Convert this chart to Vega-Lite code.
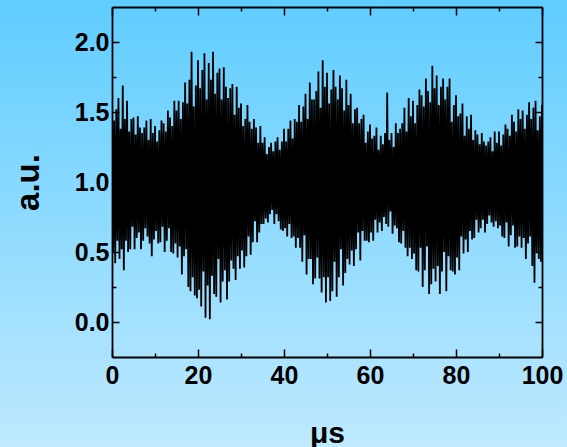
{
"$schema": "https://vega.github.io/schema/vega-lite/v6.json",
"autosize": {"type": "none"},
"width": 430, "height": 350,
"padding": {"left": 112, "top": 7, "right": 25, "bottom": 90},
"background": "#8edbff",
"config": {
  "view": {
    "fill": {"gradient": "linear", "x1": 0, "y1": -0.02, "x2": 0, "y2": 1.257, "stops": [{"offset": 0, "color": "#5fcdff"}, {"offset": 1, "color": "#bfe9ff"}]},
    "stroke": {"gradient": "linear", "x1": 0, "y1": -0.02, "x2": 0, "y2": 1.257, "stops": [{"offset": 0, "color": "#5fcdff"}, {"offset": 1, "color": "#bfe9ff"}]},
    "strokeWidth": 1400
  },
  "font": "Liberation Sans",
  "axis": {"grid": false, "domainColor": "black", "domainWidth": 1.8, "tickColor": "black", "tickWidth": 1.5, "labelColor": "black", "labelFont": "Liberation Sans", "labelFontWeight": "bold", "titleFont": "Liberation Sans", "titleFontWeight": "bold", "titleColor": "black", "labelOverlap": false, "labelFlush": false}
},
"data": {"values": [
{"t":0,"v":1.57},{"t":0.25,"v":0.50},{"t":0.5,"v":1.44},{"t":0.75,"v":0.42},
{"t":1,"v":1.52},{"t":1.25,"v":0.58},{"t":1.5,"v":1.60},{"t":1.75,"v":0.45},
{"t":2,"v":1.38},{"t":2.25,"v":0.52},{"t":2.5,"v":1.69},{"t":2.75,"v":0.37},
{"t":3,"v":1.45},{"t":3.25,"v":0.58},{"t":3.5,"v":1.58},{"t":3.75,"v":0.50},
{"t":4,"v":1.36},{"t":4.25,"v":0.52},{"t":4.5,"v":1.45},{"t":4.75,"v":0.68},
{"t":5,"v":1.46},{"t":5.25,"v":0.52},{"t":5.5,"v":1.34},{"t":5.75,"v":0.60},
{"t":6,"v":1.47},{"t":6.25,"v":0.64},{"t":6.5,"v":1.39},{"t":6.75,"v":0.52},
{"t":7,"v":1.35},{"t":7.25,"v":0.58},{"t":7.5,"v":1.39},{"t":7.75,"v":0.67},
{"t":8,"v":1.44},{"t":8.25,"v":0.61},{"t":8.5,"v":1.30},{"t":8.75,"v":0.56},
{"t":9,"v":1.45},{"t":9.25,"v":0.47},{"t":9.5,"v":1.35},{"t":9.75,"v":0.59},
{"t":10,"v":1.40},{"t":10.25,"v":0.65},{"t":10.5,"v":1.29},{"t":10.75,"v":0.56},
{"t":11,"v":1.37},{"t":11.25,"v":0.57},{"t":11.5,"v":1.44},{"t":11.75,"v":0.68},
{"t":12,"v":1.42},{"t":12.25,"v":0.50},{"t":12.5,"v":1.36},{"t":12.75,"v":0.58},
{"t":13,"v":1.51},{"t":13.25,"v":0.67},{"t":13.5,"v":1.46},{"t":13.75,"v":0.50},
{"t":14,"v":1.40},{"t":14.25,"v":0.49},{"t":14.5,"v":1.58},{"t":14.75,"v":0.56},
{"t":15,"v":1.51},{"t":15.25,"v":0.46},{"t":15.5,"v":1.58},{"t":15.75,"v":0.54},
{"t":16,"v":1.45},{"t":16.25,"v":0.34},{"t":16.5,"v":1.57},{"t":16.75,"v":0.47},
{"t":17,"v":1.71},{"t":17.25,"v":0.52},{"t":17.5,"v":1.56},{"t":17.75,"v":0.25},
{"t":18,"v":1.73},{"t":18.25,"v":0.22},{"t":18.5,"v":1.93},{"t":18.75,"v":0.32},
{"t":19,"v":1.54},{"t":19.25,"v":0.19},{"t":19.5,"v":1.69},{"t":19.75,"v":0.17},
{"t":20,"v":1.87},{"t":20.25,"v":0.23},{"t":20.5,"v":1.67},{"t":20.75,"v":0.11},
{"t":21,"v":1.80},{"t":21.25,"v":0.36},{"t":21.5,"v":1.92},{"t":21.75,"v":0.03},
{"t":22,"v":1.59},{"t":22.25,"v":0.26},{"t":22.5,"v":1.85},{"t":22.75,"v":0.02},
{"t":23,"v":1.73},{"t":23.25,"v":0.33},{"t":23.5,"v":1.93},{"t":23.75,"v":0.20},
{"t":24,"v":1.63},{"t":24.25,"v":0.18},{"t":24.5,"v":1.78},{"t":24.75,"v":0.45},
{"t":25,"v":1.81},{"t":25.25,"v":0.14},{"t":25.5,"v":1.59},{"t":25.75,"v":0.29},
{"t":26,"v":1.82},{"t":26.25,"v":0.37},{"t":26.5,"v":1.68},{"t":26.75,"v":0.16},
{"t":27,"v":1.60},{"t":27.25,"v":0.29},{"t":27.5,"v":1.67},{"t":27.75,"v":0.44},
{"t":28,"v":1.70},{"t":28.25,"v":0.38},{"t":28.5,"v":1.48},{"t":28.75,"v":0.30},
{"t":29,"v":1.68},{"t":29.25,"v":0.47},{"t":29.5,"v":1.53},{"t":29.75,"v":0.38},
{"t":30,"v":1.56},{"t":30.25,"v":0.51},{"t":30.5,"v":1.40},{"t":30.75,"v":0.39},
{"t":31,"v":1.45},{"t":31.25,"v":0.47},{"t":31.5,"v":1.55},{"t":31.75,"v":0.61},
{"t":32,"v":1.43},{"t":32.25,"v":0.48},{"t":32.5,"v":1.38},{"t":32.75,"v":0.57},
{"t":33,"v":1.45},{"t":33.25,"v":0.72},{"t":33.5,"v":1.39},{"t":33.75,"v":0.57},
{"t":34,"v":1.28},{"t":34.25,"v":0.64},{"t":34.5,"v":1.40},{"t":34.75,"v":0.70},
{"t":35,"v":1.28},{"t":35.25,"v":0.70},{"t":35.5,"v":1.32},{"t":35.75,"v":0.74},
{"t":36,"v":1.20},{"t":36.25,"v":0.71},{"t":36.5,"v":1.25},{"t":36.75,"v":0.77},
{"t":37,"v":1.28},{"t":37.25,"v":0.80},{"t":37.5,"v":1.22},{"t":37.75,"v":0.70},
{"t":38,"v":1.29},{"t":38.25,"v":0.77},{"t":38.5,"v":1.32},{"t":38.75,"v":0.72},
{"t":39,"v":1.23},{"t":39.25,"v":0.66},{"t":39.5,"v":1.29},{"t":39.75,"v":0.65},
{"t":40,"v":1.38},{"t":40.25,"v":0.67},{"t":40.5,"v":1.29},{"t":40.75,"v":0.61},
{"t":41,"v":1.38},{"t":41.25,"v":0.70},{"t":41.5,"v":1.44},{"t":41.75,"v":0.60},
{"t":42,"v":1.31},{"t":42.25,"v":0.61},{"t":42.5,"v":1.45},{"t":42.75,"v":0.53},
{"t":43,"v":1.43},{"t":43.25,"v":0.60},{"t":43.5,"v":1.55},{"t":43.75,"v":0.53},
{"t":44,"v":1.43},{"t":44.25,"v":0.43},{"t":44.5,"v":1.54},{"t":44.75,"v":0.62},
{"t":45,"v":1.63},{"t":45.25,"v":0.34},{"t":45.5,"v":1.45},{"t":45.75,"v":0.45},
{"t":46,"v":1.71},{"t":46.25,"v":0.45},{"t":46.5,"v":1.59},{"t":46.75,"v":0.27},
{"t":47,"v":1.59},{"t":47.25,"v":0.31},{"t":47.5,"v":1.65},{"t":47.75,"v":0.46},
{"t":48,"v":1.79},{"t":48.25,"v":0.31},{"t":48.5,"v":1.53},{"t":48.75,"v":0.21},
{"t":49,"v":1.87},{"t":49.25,"v":0.32},{"t":49.5,"v":1.68},{"t":49.75,"v":0.14},
{"t":50,"v":1.78},{"t":50.25,"v":0.32},{"t":50.5,"v":1.56},{"t":50.75,"v":0.15},
{"t":51,"v":1.66},{"t":51.25,"v":0.22},{"t":51.5,"v":1.80},{"t":51.75,"v":0.43},
{"t":52,"v":1.68},{"t":52.25,"v":0.18},{"t":52.5,"v":1.59},{"t":52.75,"v":0.32},
{"t":53,"v":1.76},{"t":53.25,"v":0.52},{"t":53.5,"v":1.67},{"t":53.75,"v":0.26},
{"t":54,"v":1.51},{"t":54.25,"v":0.35},{"t":54.5,"v":1.73},{"t":54.75,"v":0.45},
{"t":55,"v":1.55},{"t":55.25,"v":0.41},{"t":55.5,"v":1.63},{"t":55.75,"v":0.51},
{"t":56,"v":1.42},{"t":56.25,"v":0.40},{"t":56.5,"v":1.52},{"t":56.75,"v":0.52},
{"t":57,"v":1.53},{"t":57.25,"v":0.64},{"t":57.5,"v":1.42},{"t":57.75,"v":0.44},
{"t":58,"v":1.45},{"t":58.25,"v":0.65},{"t":58.5,"v":1.48},{"t":58.75,"v":0.58},
{"t":59,"v":1.28},{"t":59.25,"v":0.58},{"t":59.5,"v":1.36},{"t":59.75,"v":0.57},
{"t":60,"v":1.41},{"t":60.25,"v":0.64},{"t":60.5,"v":1.31},{"t":60.75,"v":0.58},
{"t":61,"v":1.33},{"t":61.25,"v":0.73},{"t":61.5,"v":1.39},{"t":61.75,"v":0.64},
{"t":62,"v":1.23},{"t":62.25,"v":0.71},{"t":62.5,"v":1.33},{"t":62.75,"v":0.65},
{"t":63,"v":1.27},{"t":63.25,"v":0.75},{"t":63.5,"v":1.35},{"t":63.75,"v":0.70},
{"t":64,"v":1.64},{"t":64.25,"v":0.68},{"t":64.5,"v":1.30},{"t":64.75,"v":0.79},
{"t":65,"v":1.35},{"t":65.25,"v":0.63},{"t":65.5,"v":1.25},{"t":65.75,"v":0.69},
{"t":66,"v":1.42},{"t":66.25,"v":0.67},{"t":66.5,"v":1.35},{"t":66.75,"v":0.57},
{"t":67,"v":1.38},{"t":67.25,"v":0.56},{"t":67.5,"v":1.42},{"t":67.75,"v":0.65},
{"t":68,"v":1.53},{"t":68.25,"v":0.53},{"t":68.5,"v":1.36},{"t":68.75,"v":0.47},
{"t":69,"v":1.60},{"t":69.25,"v":0.53},{"t":69.5,"v":1.47},{"t":69.75,"v":0.45},
{"t":70,"v":1.58},{"t":70.25,"v":0.49},{"t":70.5,"v":1.42},{"t":70.75,"v":0.37},
{"t":71,"v":1.55},{"t":71.25,"v":0.36},{"t":71.5,"v":1.66},{"t":71.75,"v":0.53},
{"t":72,"v":1.62},{"t":72.25,"v":0.25},{"t":72.5,"v":1.54},{"t":72.75,"v":0.37},
{"t":73,"v":1.74},{"t":73.25,"v":0.54},{"t":73.5,"v":1.65},{"t":73.75,"v":0.20},
{"t":74,"v":1.57},{"t":74.25,"v":0.27},{"t":74.5,"v":1.83},{"t":74.75,"v":0.38},
{"t":75,"v":1.67},{"t":75.25,"v":0.29},{"t":75.5,"v":1.76},{"t":75.75,"v":0.40},
{"t":76,"v":1.55},{"t":76.25,"v":0.20},{"t":76.5,"v":1.68},{"t":76.75,"v":0.36},
{"t":77,"v":1.74},{"t":77.25,"v":0.50},{"t":77.5,"v":1.59},{"t":77.75,"v":0.22},
{"t":78,"v":1.68},{"t":78.25,"v":0.47},{"t":78.5,"v":1.74},{"t":78.75,"v":0.37},
{"t":79,"v":1.43},{"t":79.25,"v":0.36},{"t":79.5,"v":1.55},{"t":79.75,"v":0.34},
{"t":80,"v":1.62},{"t":80.25,"v":0.46},{"t":80.5,"v":1.47},{"t":80.75,"v":0.37},
{"t":81,"v":1.49},{"t":81.25,"v":0.61},{"t":81.5,"v":1.56},{"t":81.75,"v":0.49},
{"t":82,"v":1.33},{"t":82.25,"v":0.59},{"t":82.5,"v":1.47},{"t":82.75,"v":0.50},
{"t":83,"v":1.38},{"t":83.25,"v":0.65},{"t":83.5,"v":1.48},{"t":83.75,"v":0.59},
{"t":84,"v":1.30},{"t":84.25,"v":0.60},{"t":84.5,"v":1.37},{"t":84.75,"v":0.73},
{"t":85,"v":1.34},{"t":85.25,"v":0.64},{"t":85.5,"v":1.27},{"t":85.75,"v":0.67},
{"t":86,"v":1.35},{"t":86.25,"v":0.73},{"t":86.5,"v":1.29},{"t":86.75,"v":0.64},
{"t":87,"v":1.26},{"t":87.25,"v":0.70},{"t":87.5,"v":1.29},{"t":87.75,"v":0.76},
{"t":88,"v":1.32},{"t":88.25,"v":0.71},{"t":88.5,"v":1.22},{"t":88.75,"v":0.68},
{"t":89,"v":1.36},{"t":89.25,"v":0.72},{"t":89.5,"v":1.28},{"t":89.75,"v":0.67},
{"t":90,"v":1.36},{"t":90.25,"v":0.69},{"t":90.5,"v":1.26},{"t":90.75,"v":0.61},
{"t":91,"v":1.34},{"t":91.25,"v":0.60},{"t":91.5,"v":1.41},{"t":91.75,"v":0.71},
{"t":92,"v":1.38},{"t":92.25,"v":0.54},{"t":92.5,"v":1.33},{"t":92.75,"v":0.62},
{"t":93,"v":1.48},{"t":93.25,"v":0.69},{"t":93.5,"v":1.43},{"t":93.75,"v":0.53},
{"t":94,"v":1.36},{"t":94.25,"v":0.54},{"t":94.5,"v":1.52},{"t":94.75,"v":0.61},
{"t":95,"v":1.45},{"t":95.25,"v":0.53},{"t":95.5,"v":1.51},{"t":95.75,"v":0.60},
{"t":96,"v":1.38},{"t":96.25,"v":0.45},{"t":96.5,"v":1.48},{"t":96.75,"v":0.56},
{"t":97,"v":1.57},{"t":97.25,"v":0.61},{"t":97.5,"v":1.45},{"t":97.75,"v":0.40},
{"t":98,"v":1.53},{"t":98.25,"v":0.28},{"t":98.5,"v":1.58},{"t":98.75,"v":0.50},
{"t":99,"v":1.37},{"t":99.25,"v":0.45},{"t":99.5,"v":1.47},{"t":99.75,"v":0.43},
{"t":100,"v":1.55}
]},
"layer": [
  {
    "mark": {"type": "line", "color": "black", "strokeWidth": 1.8, "clip": true},
    "encoding": {
      "x": {"field": "t", "type": "quantitative", "scale": {"domain": [0, 100], "nice": false, "zero": false},
        "axis": {"orient": "bottom", "values": [0,10,20,30,40,50,60,70,80,90,100], "format": "d",
          "labelExpr": "datum.value % 20 === 0 ? datum.label : ''",
          "tickSize": {"condition": {"test": "datum.value % 20 === 0", "value": -8}, "value": -4},
          "labelPadding": 14, "labelFontSize": 25, "title": "μs", "titleFontSize": 30, "titlePadding": 26}},
      "y": {"field": "v", "type": "quantitative", "scale": {"domain": [-0.25, 2.25], "nice": false, "zero": false},
        "axis": {"orient": "left", "values": [0,0.25,0.5,0.75,1,1.25,1.5,1.75,2], "format": ".1f",
          "labelExpr": "round(datum.value*4) % 2 === 0 ? datum.label : ''",
          "tickSize": {"condition": {"test": "round(datum.value*4) % 2 === 0", "value": -7}, "value": -4},
          "labelPadding": 10, "labelFontSize": 25, "title": "a.u.", "titleFontSize": 33, "titlePadding": 29}}
    }
  },
  {
    "mark": {"type": "line", "opacity": 0},
    "encoding": {
      "x": {"field": "t", "type": "quantitative",
        "axis": {"orient": "top", "values": [0,10,20,30,40,50,60,70,80,90,100], "labels": false, "title": null,
          "tickSize": {"condition": {"test": "datum.value % 20 === 0", "value": -8}, "value": -4}}},
      "y": {"field": "v", "type": "quantitative",
        "axis": {"orient": "right", "values": [0,0.25,0.5,0.75,1,1.25,1.5,1.75,2], "labels": false, "title": null,
          "tickSize": {"condition": {"test": "round(datum.value*4) % 2 === 0", "value": -7}, "value": -4}}}
    }
  }
],
"resolve": {"axis": {"x": "independent", "y": "independent"}}
}
